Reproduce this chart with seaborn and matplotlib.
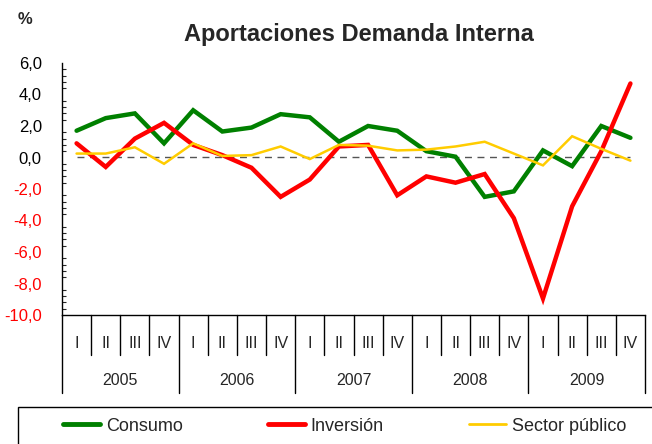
import numpy as np
import pandas as pd
import matplotlib
matplotlib.use("Agg")
import matplotlib.pyplot as plt
import seaborn as sns
from matplotlib.patches import Rectangle
from matplotlib.ticker import MultipleLocator, FuncFormatter

years = ["2005", "2006", "2007", "2008", "2009"]
quarters = ["I", "II", "III", "IV"]

consumo = [1.7, 2.5, 2.8, 0.9, 3.0, 1.65, 1.9, 2.75, 2.55, 1.0,
           2.0, 1.7, 0.4, 0.05, -2.5, -2.15, 0.45, -0.55, 2.0, 1.25]
inversion = [0.9, -0.6, 1.2, 2.2, 0.8, 0.15, -0.65, -2.5, -1.4, 0.7,
             0.8, -2.4, -1.2, -1.6, -1.05, -3.85, -8.95, -3.1, 0.4, 4.7]
sector_publico = [0.25, 0.25, 0.65, -0.4, 0.9, 0.1, 0.15, 0.7, -0.1, 0.8,
                  0.75, 0.45, 0.5, 0.7, 1.0, 0.25, -0.5, 1.35, 0.55, -0.2]

series_names = ["Consumo", "Inversión", "Sector público"]
colors = {"Consumo": "#008000", "Inversión": "#FF0000", "Sector público": "#FFCC00"}
widths = {"Consumo": 3.2, "Inversión": 3.2, "Sector público": 1.8}

n = len(consumo)
pos = np.arange(n)
df = pd.DataFrame({
    "pos": np.tile(pos, 3),
    "valor": consumo + inversion + sector_publico,
    "serie": np.repeat(series_names, n),
})

sns.set_style("white")
plt.rcParams["font.family"] = ["Liberation Sans Narrow", "Liberation Sans", "DejaVu Sans"]

fig = plt.figure(figsize=(6.52, 4.44), dpi=100)
ax = fig.add_axes([62 / 652, 1 - 315 / 444, (645 - 62) / 652, (315 - 63) / 444])

sns.lineplot(data=df, x="pos", y="valor", hue="serie", palette=colors,
             ax=ax, legend=False, sort=False)
for line, name in zip(ax.get_lines(), series_names):
    line.set_linewidth(widths[name])
    line.set_solid_joinstyle("miter")

ax.hlines(0, pos.min(), pos.max(), colors="#555555", linestyles=(0, (5, 4)), lw=1, zorder=0)

ax.set_xlim(-0.5, n - 0.5)
ax.set_ylim(-10, 6)
ax.yaxis.set_major_locator(MultipleLocator(2))
ax.yaxis.set_minor_locator(MultipleLocator(0.4))
ax.yaxis.set_major_formatter(FuncFormatter(lambda v, p: f"{v:.1f}".replace(".", ",")))
ax.tick_params(axis="y", which="major", direction="inout", length=9, width=1, labelsize=12, pad=10)
ax.tick_params(axis="y", which="minor", direction="in", length=3, width=0.8, left=True)
for lab, v in zip(ax.get_yticklabels(), ax.get_yticks()):
    lab.set_color("#FF0000" if v < 0 else "black")
ax.set_xticks([])
ax.set_xlabel("")
ax.set_ylabel("")
for s in ["top", "right"]:
    ax.spines[s].set_visible(False)
for s in ["left", "bottom"]:
    ax.spines[s].set_color("black")
    ax.spines[s].set_linewidth(1)

# category axis: quarters and years
tr = ax.get_xaxis_transform()
for k in range(n + 1):
    low = -78 / 252 if k % 4 == 0 else -40 / 252
    ax.plot([k - 0.5, k - 0.5], [0, low], transform=tr, color="black", lw=1, clip_on=False)
for k in range(n):
    ax.text(k, -28 / 252, quarters[k % 4], transform=tr, ha="center", va="center", fontsize=11.5)
for j, y in enumerate(years):
    ax.text(4 * j + 1.5, -65 / 252, y, transform=tr, ha="center", va="center", fontsize=11.5)

fig.text(359 / 652, 1 - 34 / 444, "Aportaciones Demanda Interna", ha="center", va="center",
         fontsize=17, fontweight="bold")
fig.text(18 / 652, 1 - 19 / 444, "%", ha="left", va="center", fontsize=12, fontweight="bold")

# legend box
fig.patches.append(Rectangle((18 / 652, -0.1), 1.0, 0.1 + (444 - 407) / 444,
                             transform=fig.transFigure, fill=False, ec="black", lw=1))
handles = [plt.Line2D([], [], color=colors[s], lw=3.5 if s != "Sector público" else 2) for s in series_names]
fig.legend(handles, series_names, loc="center left", bbox_to_anchor=(63 / 652, 1 - 426 / 444),
           ncol=3, frameon=False, fontsize=13, handlelength=2.05, handletextpad=0.33,
           columnspacing=4.7, borderpad=0, borderaxespad=0)

fig.savefig("out.png", dpi=100)
